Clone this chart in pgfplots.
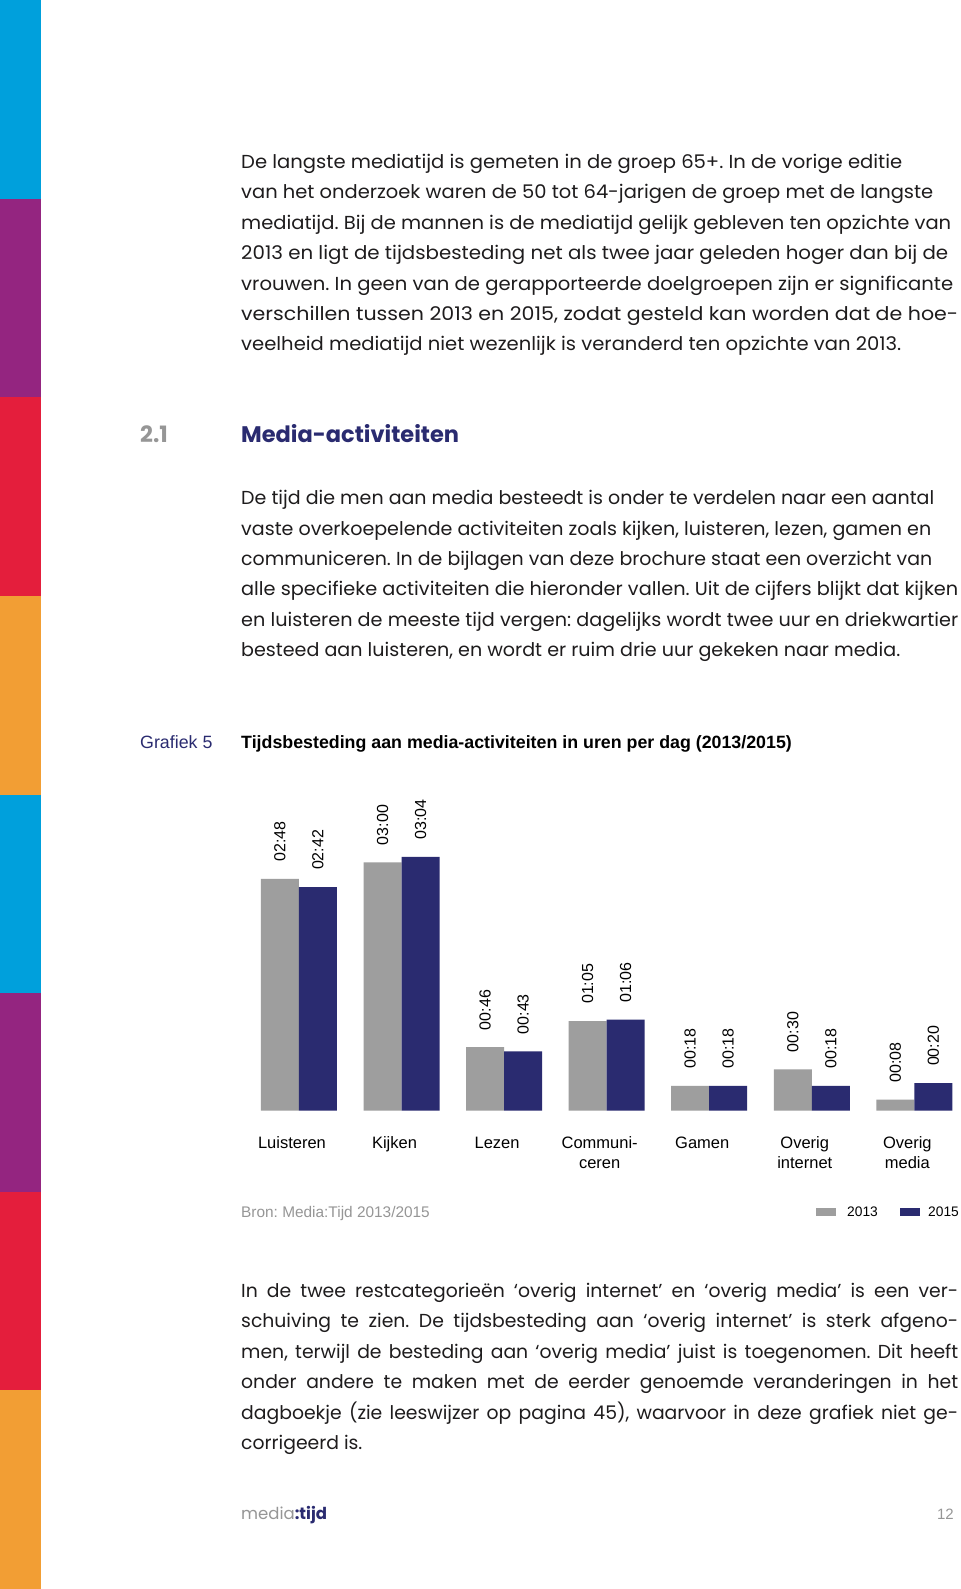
\documentclass[border=0pt]{standalone}
\usepackage{fontspec}
\usepackage{graphicx}
\usepackage{pgfplots}
\pgfplotsset{compat=1.18}
\setmainfont{Poppins}
\newfontfamily\chartfont{Liberation Sans}
\definecolor{sblue}{RGB}{0,160,220}
\definecolor{spurple}{RGB}{148,37,128}
\definecolor{sred}{RGB}{228,30,60}
\definecolor{sorange}{RGB}{242,158,52}
\definecolor{bargray}{RGB}{158,158,158}
\definecolor{navy}{RGB}{42,43,112}
\definecolor{bodytext}{RGB}{30,28,29}
\definecolor{lightgray}{RGB}{150,150,150}
\newcommand\bodyfs{\fontsize{18.8bp}{22bp}\selectfont\color{bodytext}}
\newcommand\bl[2]{\node[anchor=base west, inner sep=0pt] at (241,-#1) {\bodyfs #2};}
\newcommand\bw[3]{\node[anchor=base west, inner sep=0pt] at (241,-#1) {\bodyfs\resizebox{#2bp}{\height}{#3}};}
\newcommand\jl[2]{\node[anchor=base west, inner sep=0pt] at (241,-#1) {\bodyfs\makebox[717bp][s]{#2}};}
\frenchspacing
\begin{document}
\begin{tikzpicture}[x=1bp,y=1bp]
\fill[white] (0,0) rectangle (960,-1589);
% left stripe
\fill[sblue]   (0,0)       rectangle (41,-198.6);
\fill[spurple] (0,-198.6)  rectangle (41,-397.2);
\fill[sred]    (0,-397.2)  rectangle (41,-595.9);
\fill[sorange] (0,-595.9)  rectangle (41,-794.5);
\fill[sblue]   (0,-794.5)  rectangle (41,-993.1);
\fill[spurple] (0,-993.1)  rectangle (41,-1191.7);
\fill[sred]    (0,-1191.7) rectangle (41,-1390.4);
\fill[sorange] (0,-1390.4) rectangle (41,-1589);
% paragraph 1
\bw{168.5}{661}{De langste mediatijd is gemeten in de groep 65+. In de vorige editie}
\bw{198.9}{692}{van het onderzoek waren de 50 tot 64-jarigen de groep met de langste}
\bw{229.3}{710}{mediatijd. Bij de mannen is de mediatijd gelijk gebleven ten opzichte van}
\bw{259.7}{707}{2013 en ligt de tijdsbesteding net als twee jaar geleden hoger dan bij de}
\bw{290.1}{712}{vrouwen. In geen van de gerapporteerde doelgroepen zijn er significante}
\bw{320.5}{717}{verschillen tussen 2013 en 2015, zodat gesteld kan worden dat de hoe-}
\bw{350.9}{660}{veelheid mediatijd niet wezenlijk is veranderd ten opzichte van 2013.}
% heading
\node[anchor=base west, inner sep=0pt, text=lightgray] at (140,-442) {\fontsize{22.5bp}{26bp}\selectfont\bfseries 2.1};
\node[anchor=base west, inner sep=0pt, text=navy] at (241,-442) {\fontsize{22.5bp}{26bp}\selectfont\bfseries Media-activiteiten};
% paragraph 2
\bw{504.7}{693}{De tijd die men aan media besteedt is onder te verdelen naar een aantal}
\bw{535.1}{690}{vaste overkoepelende activiteiten zoals kijken, luisteren, lezen, gamen en}
\bw{565.5}{691}{communiceren. In de bijlagen van deze brochure staat een overzicht van}
\bw{595.9}{717}{alle specifieke activiteiten die hieronder vallen. Uit de cijfers blijkt dat kijken}
\bw{626.3}{717}{en luisteren de meeste tijd vergen: dagelijks wordt twee uur en driekwartier}
\bw{656.7}{659}{besteed aan luisteren, en wordt er ruim drie uur gekeken naar media.}
% chart title
\node[anchor=base west, inner sep=0pt, text=navy] at (140,-748) {\chartfont\fontsize{17.8bp}{20bp}\selectfont Grafiek 5};
\node[anchor=base west, inner sep=0pt] at (241,-748) {\chartfont\fontsize{17.8bp}{20bp}\selectfont\bfseries Tijdsbesteding aan media-activiteiten in uren per dag (2013/2015)};
% chart
\begin{axis}[
  at={(247.7bp,-1110.7bp)}, anchor=south west,
  scale only axis, width=717.9bp, height=276bp,
  xmin=-0.5, xmax=6.5, ymin=0, ymax=200,
  axis line style={draw=none}, tick style={draw=none},
  ytick=\empty, xtick={0,1,2,3,4,5,6},
  xticklabels={Luisteren,Kijken,Lezen,{Communi-\\ceren},Gamen,{Overig\\internet},{Overig\\media}},
  xticklabel style={font=\chartfont\fontsize{16.5bp}{20bp}\selectfont, align=center, anchor=north, inner sep=0pt, yshift=-21.5bp, xshift=-7bp},
  ybar=0pt, bar width=38bp,
  nodes near coords, point meta=explicit symbolic,
  nodes near coords style={font=\chartfont\fontsize{16bp}{18bp}\selectfont, rotate=90, anchor=west, inner ysep=0pt, inner xsep=17bp, text=black},
  clip=false,
]
\addplot[fill=bargray, draw=none] coordinates {(0,168) [02:48] (1,180) [03:00] (2,46) [00:46] (3,65) [01:05] (4,18) [00:18] (5,30) [00:30] (6,8) [00:08]};
\addplot[fill=navy, draw=none] coordinates {(0,162) [02:42] (1,184) [03:04] (2,43) [00:43] (3,66) [01:06] (4,18) [00:18] (5,18) [00:18] (6,20) [00:20]};
\end{axis}
% source and legend
\node[anchor=base west, inner sep=0pt, text=lightgray] at (241,-1217) {\chartfont\fontsize{15.4bp}{18bp}\selectfont Bron: Media:Tijd 2013/2015};
\fill[bargray] (816,-1207.7) rectangle (836,-1215.5);
\node[anchor=base west, inner sep=0pt] at (847,-1216) {\chartfont\fontsize{13.8bp}{16bp}\selectfont 2013};
\fill[navy] (900,-1207.7) rectangle (920,-1215.5);
\node[anchor=base west, inner sep=0pt] at (928,-1216) {\chartfont\fontsize{13.8bp}{16bp}\selectfont 2015};
% paragraph 3
\jl{1297.5}{In de twee restcategorieën ‘overig internet’ en ‘overig media’ is een ver-}
\jl{1327.9}{schuiving te zien. De tijdsbesteding aan ‘overig internet’ is sterk afgeno-}
\jl{1358.3}{men, terwijl de besteding aan ‘overig media’ juist is toegenomen. Dit heeft}
\jl{1388.7}{onder andere te maken met de eerder genoemde veranderingen in het}
\jl{1419.1}{dagboekje (zie leeswijzer op pagina 45), waarvoor in deze grafiek niet ge-}
\bl{1449.5}{corrigeerd is.}
% footer
\node[anchor=base west, inner sep=0pt] at (241,-1519) {\fontsize{16.5bp}{18bp}\selectfont\textcolor{lightgray}{media}\textcolor{navy}{\bfseries :tijd}};
\node[anchor=base east, inner sep=0pt, text=lightgray] at (954,-1519) {\chartfont\fontsize{15bp}{16bp}\selectfont 12};
\pgfresetboundingbox
\path[use as bounding box] (0,0) rectangle (960,-1589);
\end{tikzpicture}
\end{document}
